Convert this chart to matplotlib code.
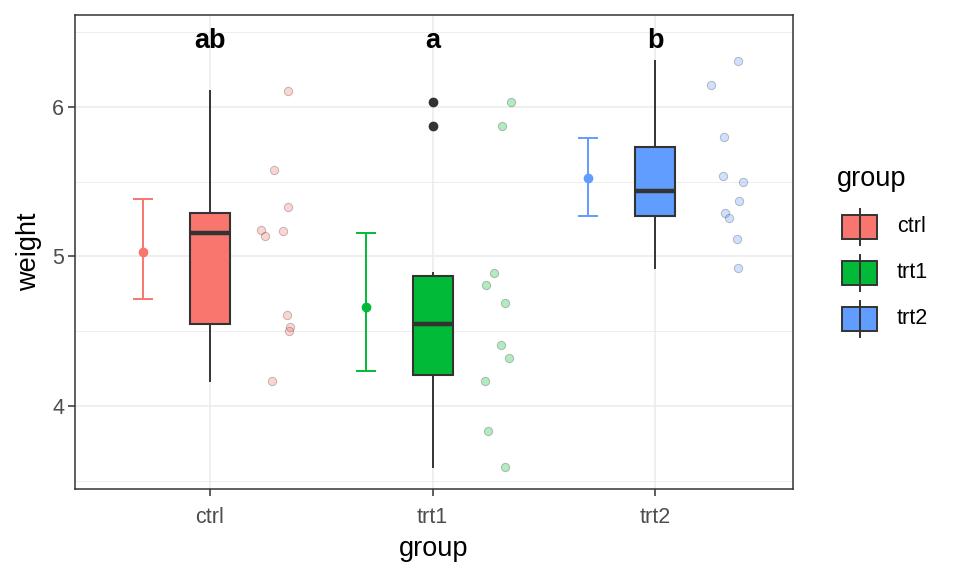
import numpy as np
import matplotlib
matplotlib.use("Agg")
import matplotlib.pyplot as plt
from matplotlib.patches import Rectangle

plt.rcParams["font.family"] = ["Liberation Sans", "DejaVu Sans"]

groups = ["ctrl", "trt1", "trt2"]
colors = ["#F8766D", "#00BA38", "#619CFF"]
letters = ["ab", "a", "b"]

ctrl = [6.11, 5.58, 5.33, 5.18, 5.14, 5.17, 4.61, 4.53, 4.50, 4.17]
trt1 = [6.03, 5.87, 4.89, 4.81, 4.69, 4.41, 4.32, 4.17, 3.83, 3.59]
trt2 = [6.31, 6.15, 5.80, 5.54, 5.50, 5.37, 5.29, 5.26, 5.12, 4.92]

# jitter offsets
ctrl_jit = [0.349, 0.286, 0.349, 0.228, 0.246, 0.327, 0.346, 0.360, 0.354, 0.277]
trt1_jit = [0.351, 0.313, 0.277, 0.241, 0.327, 0.306, 0.342, 0.237, 0.250, 0.327]
trt2_jit = [0.373, 0.250, 0.309, 0.304, 0.394, 0.376, 0.313, 0.333, 0.367, 0.372]

means = [5.032, 4.661, 5.526]
err_low = [4.718, 4.236, 5.273]
err_high = [5.385, 5.160, 5.795]

values = [ctrl, trt1, trt2]
jitters = [ctrl_jit, trt1_jit, trt2_jit]

fig = plt.figure(figsize=(9.6, 5.76), dpi=100)
ax = fig.add_axes([75 / 960, 87 / 576, 718 / 960, 474 / 576])

pos = np.arange(1, 4)
ax.set_xlim(0.393, 3.62)
ax.set_ylim(3.445, 6.615)

# grid like theme_bw
for y in [4, 5, 6]:
    ax.axhline(y, color="#EBEBEB", lw=1.1, zorder=0)
for y in [3.5, 4.5, 5.5, 6.5]:
    ax.axhline(y, color="#EBEBEB", lw=0.6, zorder=0)
for x in pos:
    ax.axvline(x, color="#EBEBEB", lw=1.1, zorder=0)

bp = ax.boxplot(values, positions=pos, widths=0.18, patch_artist=True,
                whis=1.5, manage_ticks=False,
                medianprops=dict(color="#333333", lw=3.2, zorder=5),
                whiskerprops=dict(color="#333333", lw=1.4),
                capprops=dict(lw=0),
                boxprops=dict(edgecolor="#333333", lw=1.5),
                flierprops=dict(marker="o", markerfacecolor="#333333",
                                markeredgecolor="#333333", markersize=6))
for patch, c in zip(bp["boxes"], colors):
    patch.set_facecolor(c)
    patch.set_zorder(3)

for i in range(3):
    xs = pos[i] + np.array(jitters[i])
    ax.scatter(xs, values[i], s=36, facecolor=colors[i], alpha=0.3,
               edgecolor="#333333", linewidth=0.7, zorder=4)
    ax.errorbar(pos[i] - 0.3, means[i],
                yerr=[[means[i] - err_low[i]], [err_high[i] - means[i]]],
                fmt="o", color=colors[i], ms=6, capsize=7.5, capthick=1.4,
                elinewidth=1.4, zorder=4)
    ax.text(pos[i], 6.44, letters[i], ha="center", va="center",
            fontsize=19.5, fontweight="bold", color="black")

ax.set_xticks(pos)
ax.set_xticklabels(groups)
ax.set_yticks([4, 5, 6])
ax.tick_params(axis="both", colors="#333333", labelcolor="#4D4D4D",
               labelsize=15.5, length=4.8, width=1.1)
ax.tick_params(axis="x", pad=8)
ax.tick_params(axis="y", pad=3)
ax.set_xlabel("group", fontsize=19.5, labelpad=6)
ax.set_ylabel("weight", fontsize=19.5, labelpad=7)
for s in ax.spines.values():
    s.set_color("#333333")
    s.set_linewidth(1.1)

# legend drawn by hand
fig.text(837 / 960, 1 - 179 / 576, "group", fontsize=19.5, va="center", ha="left")
key_y = [226.5, 273, 319]
for c, g, yk in zip(colors, groups, key_y):
    yf = 1 - yk / 576
    fig.add_artist(plt.Line2D([859.5 / 960, 859.5 / 960],
                              [1 - (yk - 18) / 576, 1 - (yk + 18) / 576],
                              color="#333333", lw=1.4,
                              transform=fig.transFigure))
    fig.add_artist(Rectangle((842 / 960, 1 - (yk + 12) / 576), 35 / 960, 24 / 576,
                             facecolor=c, edgecolor="#333333", lw=1.4,
                             transform=fig.transFigure))
    fig.text(897 / 960, yf, g, fontsize=15.5, va="center", ha="left")

fig.savefig("out.png", dpi=100)
